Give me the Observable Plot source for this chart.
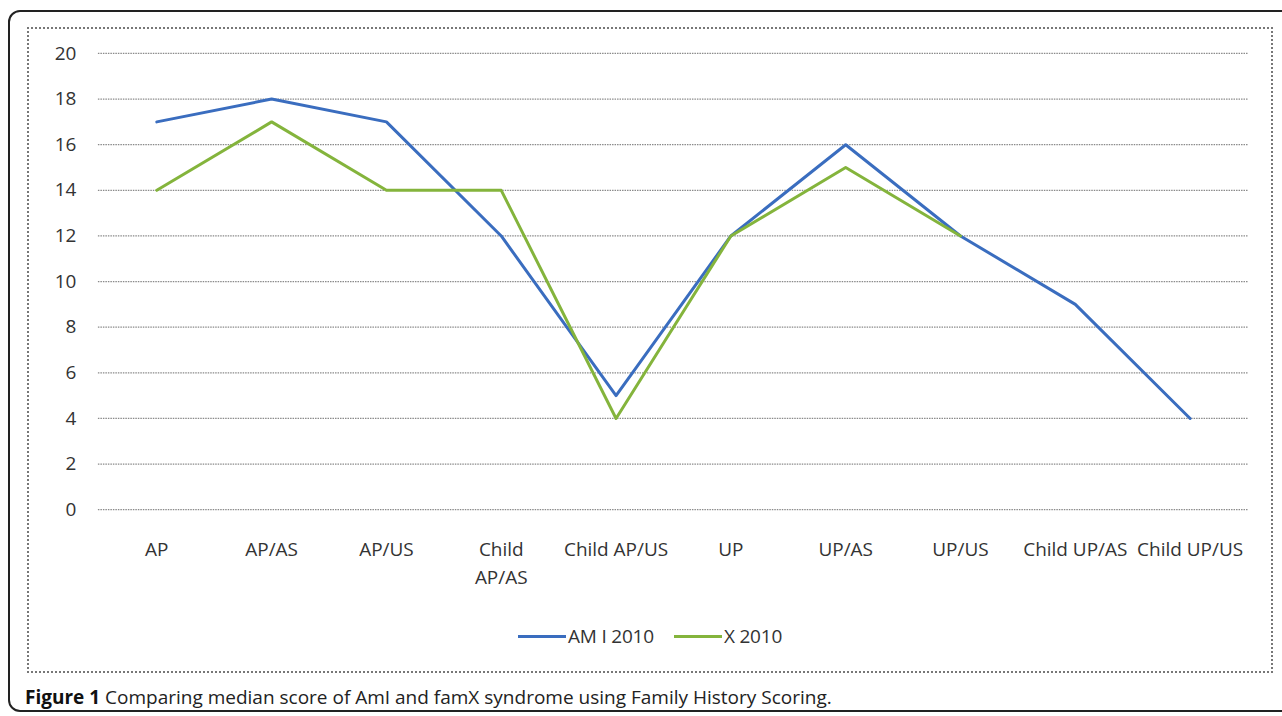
<!DOCTYPE html>
<html>
<head>
<meta charset="utf-8">
<script src="https://cdn.jsdelivr.net/npm/d3@7"></script>
<script src="https://cdn.jsdelivr.net/npm/@observablehq/plot@0.6"></script>
<style>
  html, body { margin: 0; padding: 0; background: #fff; width: 1282px; height: 716px; overflow: hidden; }
  #outer { position: absolute; left: 8px; top: 10px; width: 1300px; height: 702px; border: 2px solid #222; border-radius: 12px; box-sizing: border-box; }
  #inner { position: absolute; left: 27px; top: 27px; width: 1246px; height: 646px; border: 2px dotted #777; box-sizing: border-box; }
  #chart { position: absolute; left: -2px; top: -2px; }
  #legend { position: absolute; left: 0; right: 0; top: 594px; text-align: center; font-family: "Open Sans", sans-serif; font-size: 19px; color: #333; letter-spacing: -0.2px; }
  #legend span.item { display: inline-block; margin: 0 10px; }
  #legend span.sw { display: inline-block; width: 48px; height: 3px; vertical-align: middle; margin-right: 2px; position: relative; top: -1px; }
  #caption { position: absolute; left: 25px; top: 684px; font-family: "Open Sans", sans-serif; font-size: 19px; color: #222; white-space: nowrap; }
  #caption b { color: #111; }
</style>
</head>
<body>
<div id="outer"></div>
<div id="inner">
  <div id="chart"></div>
  <div id="legend"></div>
</div>
<div id="caption"><b>Figure 1</b> Comparing median score of AmI and famX syndrome using Family History Scoring.</div>
<script>
const categories = ["AP", "AP/AS", "AP/US", "Child AP/AS", "Child AP/US", "UP", "UP/AS", "UP/US", "Child UP/AS", "Child UP/US"];
const tickLabels = ["AP", "AP/AS", "AP/US", "Child\nAP/AS", "Child AP/US", "UP", "UP/AS", "UP/US", "Child UP/AS", "Child UP/US"];
const seriesNames = ["AM I 2010", "X 2010"];
const ami2010 = [17, 18, 17, 12, 5, 12, 16, 12, 9, 4];
const x2010 = [14, 17, 14, 14, 4, 12, 15, 12, null, null];
const seriesColors = ["#3a6dbf", "#84b43c"];
const yTicks = [0, 2, 4, 6, 8, 10, 12, 14, 16, 18, 20];

const rows = [];
[ami2010, x2010].forEach((vals, si) => {
  vals.forEach((v, i) => rows.push({series: seriesNames[si], cat: categories[i], value: v}));
});

const labelMap = new Map(categories.map((c, i) => [c, tickLabels[i]]));

const plot = Plot.plot({
  width: 1246,
  height: 575,
  marginLeft: 71,
  marginRight: 23,
  marginTop: 26,
  marginBottom: 92,
  style: { fontFamily: "'Open Sans', sans-serif", fontSize: "19px", color: "#333", background: "transparent" },
  x: { type: "band", domain: categories, label: null, padding: 0, align: 0.5 },
  y: { domain: [0, 20], label: null },
  color: { domain: seriesNames, range: seriesColors },
  marks: [
    Plot.ruleY(yTicks, { stroke: "#8a8a8a", strokeWidth: 1.3, strokeDasharray: "1.5,1" }),
    Plot.axisY({ ticks: yTicks, tickSize: 0, tickPadding: 22, label: null, fontSize: 19 }),
    Plot.axisX({ tickSize: 0, tickPadding: 26, label: null, tickFormat: d => labelMap.get(d), fontSize: 19, lineHeight: 1.5 }),
    Plot.line(rows.filter(d => d.value != null), {
      x: "cat", y: "value", z: "series", stroke: "series", strokeWidth: 3, curve: "linear"
    })
  ]
});
document.getElementById("chart").appendChild(plot);

const legend = document.getElementById("legend");
seriesNames.forEach((n, i) => {
  const item = document.createElement("span");
  item.className = "item";
  item.innerHTML = `<span class="sw" style="background:${seriesColors[i]}"></span>${n}`;
  legend.appendChild(item);
});
</script>
</body>
</html>
